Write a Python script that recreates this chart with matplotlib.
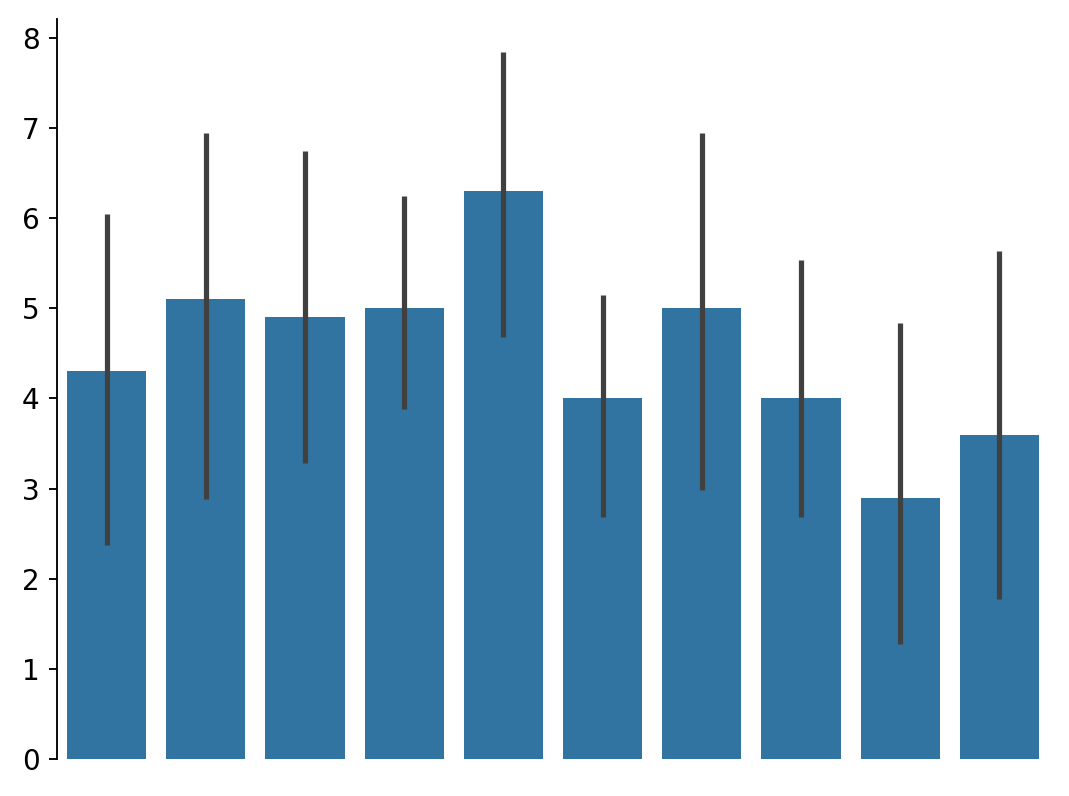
import matplotlib
matplotlib.use("Agg")
import matplotlib.pyplot as plt

categories = list(range(10))
means = [4.3, 5.1, 4.9, 5.0, 6.3, 4.0, 5.0, 4.0, 2.9, 3.6]
ci_low = [2.37, 2.88, 3.28, 3.88, 4.68, 2.69, 2.98, 2.69, 1.28, 1.78]
ci_high = [6.05, 6.95, 6.75, 6.25, 7.84, 5.15, 6.95, 5.54, 4.84, 5.64]

fig = plt.figure(figsize=(1069 / 167, 796 / 167), dpi=167)
ax = fig.add_axes([57 / 1069, 37 / 796, 992 / 1069, 740 / 796])

ax.bar(categories, means, width=0.8, color="#3274a1")
for x, lo, hi in zip(categories, ci_low, ci_high):
    ax.plot([x, x], [lo, hi], color="#404040", linewidth=2.25, solid_capstyle="butt")

ax.set_xlim(-0.5, 9.5)
ax.set_ylim(0, 8.21)
ax.set_xticks([])
ax.set_yticks(range(9))
ax.tick_params(axis="y", labelsize=12, pad=4)
for s in ["top", "right", "bottom"]:
    ax.spines[s].set_visible(False)

fig.savefig("out.png", dpi=167)
